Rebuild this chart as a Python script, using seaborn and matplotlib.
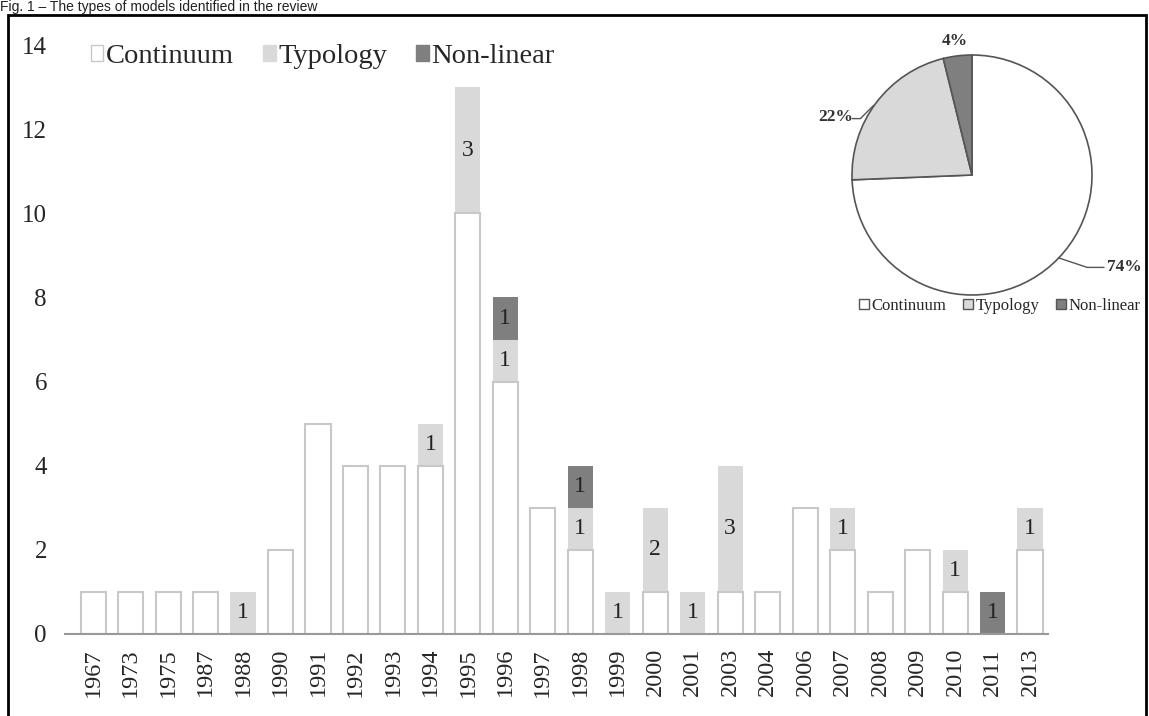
import matplotlib
matplotlib.use("Agg")
import matplotlib.pyplot as plt
import seaborn as sns
import numpy as np
import pandas as pd
from matplotlib.patches import Rectangle, Patch

years = ["1967", "1973", "1975", "1987", "1988", "1990", "1991", "1992", "1993", "1994",
         "1995", "1996", "1997", "1998", "1999", "2000", "2001", "2003", "2004", "2006",
         "2007", "2008", "2009", "2010", "2011", "2013"]
continuum = [1, 1, 1, 1, 0, 2, 5, 4, 4, 4, 10, 6, 3, 2, 0, 1, 0, 1, 1, 3, 2, 1, 2, 1, 0, 2]
typology = [0, 0, 0, 0, 1, 0, 0, 0, 0, 1, 3, 1, 0, 1, 1, 2, 1, 3, 0, 0, 1, 0, 0, 1, 0, 1]
nonlinear = [0, 0, 0, 0, 0, 0, 0, 0, 0, 0, 0, 1, 0, 1, 0, 0, 0, 0, 0, 0, 0, 0, 0, 0, 1, 0]
series_names = ["Continuum", "Typology", "Non-linear"]
pie_labels = ["74%", "22%", "4%"]

c_cont = "#ffffff"
c_typ = "#d9d9d9"
c_non = "#7f7f7f"
edge_cont = "#c8c8c8"

sns.set_theme(style="white")
plt.rcParams["font.family"] = ["Liberation Serif", "DejaVu Serif"]

df = pd.DataFrame({"year": years, "cont": continuum, "typ": typology, "non": nonlinear})
df["ct"] = df["cont"] + df["typ"]
df["total"] = df["ct"] + df["non"]

W, H = 1149, 716
fig = plt.figure(figsize=(W / 100, H / 100), dpi=100)
ax_left, ax_right, y0, y14 = 65, 1048, 634, 45
ax = fig.add_axes([ax_left / W, (H - y0) / H, (ax_right - ax_left) / W, (y0 - y14) / H])

w = 0.67
sns.barplot(data=df, x="year", y="total", color=c_non, width=w, saturation=1, ax=ax,
            edgecolor=c_non, linewidth=0, errorbar=None)
sns.barplot(data=df, x="year", y="ct", color=c_typ, width=w, saturation=1, ax=ax,
            edgecolor=c_typ, linewidth=0, errorbar=None)
sns.barplot(data=df, x="year", y="cont", color=c_cont, width=w, saturation=1, ax=ax,
            edgecolor=edge_cont, linewidth=1.5, errorbar=None)

for i in range(len(years)):
    if typology[i] > 0:
        ax.text(i, continuum[i] + typology[i] / 2, str(typology[i]), ha="center", va="center",
                fontsize=17, color="#222222")
    if nonlinear[i] > 0:
        base = continuum[i] + typology[i]
        ax.text(i, base + nonlinear[i] / 2, str(nonlinear[i]), ha="center", va="center",
                fontsize=17, color="#222222")

ax.set_ylim(0, 14)
ax.set_xlim(-0.75, len(years) - 0.52)
ax.set_yticks(range(0, 15, 2))
ax.tick_params(axis="y", length=0, pad=13, labelsize=18)
ax.tick_params(axis="x", length=0, pad=10, labelsize=17.5, rotation=90)
ax.set_xlabel("")
ax.set_ylabel("")
for s in ["top", "right", "left"]:
    ax.spines[s].set_visible(False)
ax.spines["bottom"].set_color("#999999")
ax.spines["bottom"].set_linewidth(1.5)
ax.patch.set_alpha(0)

handles = [Patch(facecolor=c_cont, edgecolor=edge_cont, label=series_names[0]),
           Patch(facecolor=c_typ, edgecolor=c_typ, label=series_names[1]),
           Patch(facecolor=c_non, edgecolor=c_non, label=series_names[2])]
ax.legend(handles=handles, loc="upper left", bbox_to_anchor=(0.0, 1.045), ncol=3,
          frameon=False, fontsize=20.5, handlelength=0.45, handleheight=0.45,
          handletextpad=0.1, columnspacing=1.0)

# pie
cx, cy, r = 972, 175, 120
pax = fig.add_axes([(cx - r) / W, (H - cy - r) / H, 2 * r / W, 2 * r / H])
pie_vals = [sum(continuum), sum(typology), sum(nonlinear)]
pax.pie(pie_vals, colors=[c_cont, c_typ, c_non], startangle=90, counterclock=False,
        wedgeprops=dict(edgecolor="#555555", linewidth=1.2), radius=1)
pax.set_xlim(-1, 1)
pax.set_ylim(-1, 1)
pax.set_aspect("auto")

pax.text(-0.14, 1.12, pie_labels[2], ha="center", va="center", fontsize=12.5, weight="bold",
         color="#333333")
pax.text(-1.14, 0.48, pie_labels[1], ha="center", va="center", fontsize=12.5, weight="bold",
         color="#333333")
pax.plot([-1.0, -0.93, -0.82], [0.47, 0.47, 0.58], color="#555555", lw=1, clip_on=False)
pax.text(1.27, -0.77, pie_labels[0], ha="center", va="center", fontsize=12.5, weight="bold",
         color="#333333")
pax.plot([0.72, 0.96, 1.1], [-0.69, -0.77, -0.77], color="#555555", lw=1, clip_on=False)

ph = [Patch(facecolor=c_cont, edgecolor="#555555", label=series_names[0]),
      Patch(facecolor=c_typ, edgecolor="#555555", label=series_names[1]),
      Patch(facecolor=c_non, edgecolor="#555555", label=series_names[2])]
fig.legend(handles=ph, loc="center", bbox_to_anchor=(1000 / W, 1 - 306 / H), ncol=3,
           frameon=False, fontsize=12, handlelength=0.6, handleheight=0.6,
           handletextpad=0.15, columnspacing=1.0)

fig.patches.append(Rectangle((8 / W, -0.05), (1146 - 8) / W, 1.05 - 15 / H,
                             transform=fig.transFigure, fill=False, edgecolor="black",
                             linewidth=2))
fig.text(0.0, 1.0, "Fig. 1 \u2013 The types of models identified in the review",
         family=["Liberation Sans", "DejaVu Sans"], fontsize=10, ha="left", va="top",
         color="#222222")

fig.savefig("out.png", dpi=100)
